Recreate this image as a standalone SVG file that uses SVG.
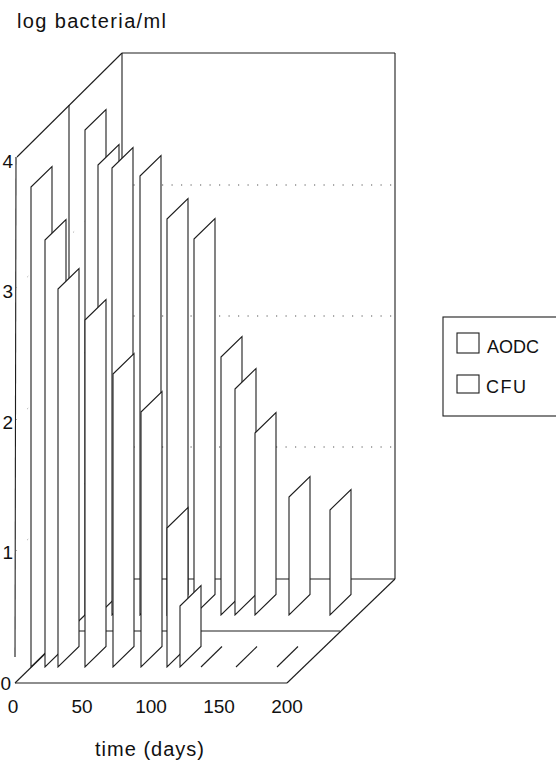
<svg xmlns="http://www.w3.org/2000/svg" width="556" height="761" viewBox="0 0 556 761">
<style>
.ln{stroke:#1e1e1e;stroke-width:1.1;fill:none}
.dot{stroke:#555;stroke-width:1.2;fill:none;stroke-dasharray:1.2 8.3}
.ldot{stroke:#888;stroke-width:1;fill:none;stroke-dasharray:1 15}
.bar{fill:#fff;stroke:#1e1e1e;stroke-width:1.1;stroke-linejoin:miter}
text{font-family:"Liberation Sans",Arial,sans-serif;fill:#111}
.t19{font-size:19px}
.t18{font-size:18px}
.t20{font-size:20px}
</style>
<rect width="556" height="761" fill="#fff"/>
<g id="axes-frame">
  <line class="ln" x1="122" y1="53" x2="395" y2="53"/>
  <line class="ln" x1="395" y1="53" x2="395" y2="579"/>
  <line class="ln" x1="122" y1="53" x2="122" y2="579"/>
  <line class="ln" x1="17" y1="157" x2="122" y2="53"/>
  <line class="ln" x1="16" y1="157" x2="15" y2="657"/>
  <line class="ln" x1="69" y1="105" x2="69" y2="631"/>
  <line class="ln" x1="122" y1="579" x2="395" y2="579"/>
  <line class="ln" x1="15" y1="683" x2="122" y2="579"/>
  <line class="ln" x1="15" y1="683" x2="287" y2="683"/>
  <line class="ln" x1="287" y1="683" x2="395" y2="579"/>
  <line class="ln" x1="69" y1="631" x2="340" y2="631"/>
</g>
<g id="gridlines">
  <line class="dot" x1="124" y1="185" x2="393" y2="185"/>
  <line class="dot" x1="124" y1="316" x2="393" y2="316"/>
  <line class="dot" x1="124" y1="447" x2="393" y2="447"/>
  <line class="ldot" x1="16" y1="288" x2="122" y2="185"/>
  <line class="ldot" x1="16" y1="420" x2="122" y2="316"/>
  <line class="ldot" x1="16" y1="551" x2="122" y2="447"/>
</g>
<g id="bars-aodc">
  <g id="aodc-0"><polygon class="bar" points="85,130 106,109.5 106,594.5 85,615"/></g>
  <g id="aodc-10"><polygon class="bar" points="98,165 119,144.5 119,594.5 98,615"/></g>
  <g id="aodc-20"><polygon class="bar" points="112,168 133,147.5 133,594.5 112,615"/></g>
  <g id="aodc-40"><polygon class="bar" points="140,176 161,155.5 161,594.5 140,615"/></g>
  <g id="aodc-60"><polygon class="bar" points="167,219 188,198.5 188,594.5 167,615"/></g>
  <g id="aodc-80"><polygon class="bar" points="194,239 215,218.5 215,594.5 194,615"/></g>
  <g id="aodc-100"><polygon class="bar" points="221,357 242,336.5 242,594.5 221,615"/></g>
  <g id="aodc-110"><polygon class="bar" points="235,389 256,368.5 256,594.5 235,615"/></g>
  <g id="aodc-125"><polygon class="bar" points="255,433 276,412.5 276,594.5 255,615"/></g>
  <g id="aodc-150"><polygon class="bar" points="289,497 310,476.5 310,594.5 289,615"/></g>
  <g id="aodc-180"><polygon class="bar" points="330,510 351,489.5 351,594.5 330,615"/></g>
</g>
<g id="bars-cfu">
  <g id="cfu-0"><polygon class="bar" points="31,187 52,166.5 52,646.5 31,667"/></g>
  <g id="cfu-10"><polygon class="bar" points="45,240 66,219.5 66,646.5 45,667"/></g>
  <g id="cfu-20"><polygon class="bar" points="58,289 79,268.5 79,646.5 58,667"/></g>
  <g id="cfu-40"><polygon class="bar" points="85,320 106,299.5 106,646.5 85,667"/></g>
  <g id="cfu-60"><polygon class="bar" points="113,374 134,353.5 134,646.5 113,667"/></g>
  <g id="cfu-80"><polygon class="bar" points="141,412 162,391.5 162,646.5 141,667"/></g>
  <g id="cfu-100"><polygon class="bar" points="167,528 188,507.5 188,646.5 167,667"/></g>
  <g id="cfu-110"><polygon class="bar" points="180,606 201,585.5 201,646.5 180,667"/></g>
  <g id="cfu-125"><line class="ln" x1="201" y1="667" x2="222" y2="646.5"/></g>
  <g id="cfu-150"><line class="ln" x1="236" y1="667" x2="257" y2="646.5"/></g>
  <g id="cfu-180"><line class="ln" x1="277" y1="667" x2="298" y2="646.5"/></g>
</g>
<g id="labels">
  <text class="t20" x="17" y="28" textLength="149" lengthAdjust="spacing">log bacteria/ml</text>
  <text class="t19" x="13" y="168" text-anchor="end">4</text>
  <text class="t19" x="13" y="298" text-anchor="end">3</text>
  <text class="t19" x="13" y="429" text-anchor="end">2</text>
  <text class="t19" x="13" y="559" text-anchor="end">1</text>
  <text class="t19" x="11" y="690" text-anchor="end">0</text>
  <text class="t19" x="13" y="713" text-anchor="middle">0</text>
  <text class="t19" x="82" y="713" text-anchor="middle">50</text>
  <text class="t19" x="151" y="713" text-anchor="middle">100</text>
  <text class="t19" x="219" y="713" text-anchor="middle">150</text>
  <text class="t19" x="287" y="713" text-anchor="middle">200</text>
  <text class="t20" x="95" y="756" textLength="109" lengthAdjust="spacing">time (days)</text>
</g>
<g id="legend">
  <rect class="ln" x="443" y="317" width="120" height="99"/>
  <rect class="ln" x="457" y="333" width="22" height="20" fill="#fff"/>
  <text class="t18" x="487" y="353">AODC</text>
  <rect class="ln" x="457" y="375" width="22" height="18" fill="#fff"/>
  <text class="t18" x="486" y="393" textLength="40" lengthAdjust="spacing">CFU</text>
</g>
</svg>
